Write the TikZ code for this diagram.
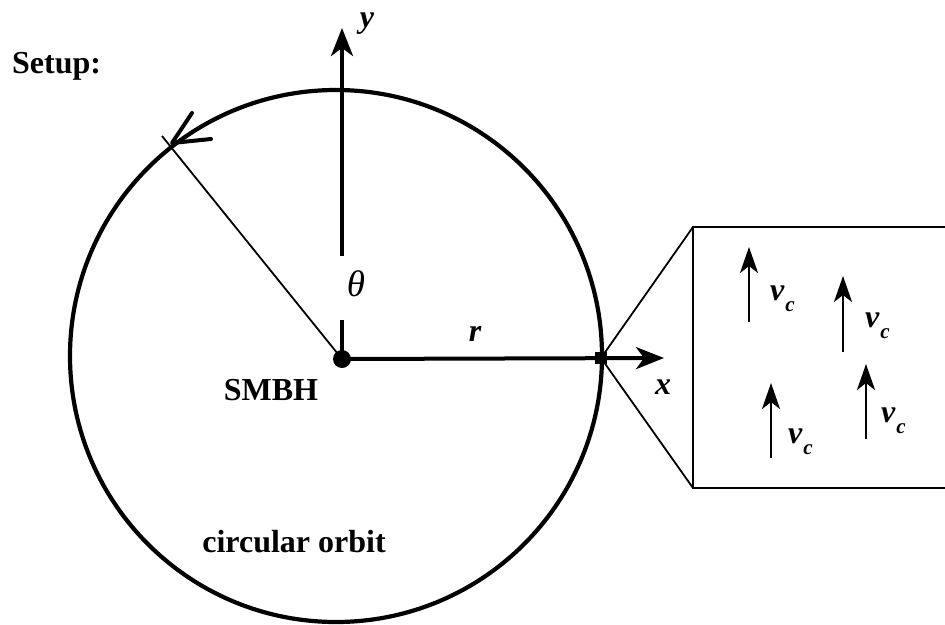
\documentclass[tikz,border=0pt]{standalone}
\usepackage{fontspec}
\setmainfont{Liberation Serif}
\usetikzlibrary{arrows.meta}
\begin{document}
\begin{tikzpicture}[x=1pt,y=-1pt,
  lbl/.style={font=\fontsize{32}{36}\selectfont\bfseries, inner sep=0pt},
  ilbl/.style={font=\fontsize{32}{36}\selectfont\bfseries\itshape, inner sep=0pt},
  axisline/.style={line width=4pt, -{Stealth[length=28pt,width=22pt,inset=8pt]}},
  varrow/.style={line width=2.5pt, -{Stealth[length=26pt,width=18pt,inset=7pt]}},
  fine/.style={line width=1.8pt},
  orbit/.style={line width=4.2pt}
]
\useasboundingbox (0,0) rectangle (945,624);
% centre and circle
\coordinate (cc) at (336,356);
\draw[orbit] (cc) circle[radius=266];
\node[circle, fill=black, minimum size=18pt, inner sep=0pt] (bh) at (342,359) {};
% y axis with gap for theta
\coordinate (ytop) at (342,28);
\coordinate (ygap1) at (342,256);
\coordinate (ygap2) at (342,320);
\draw[axisline] (ygap1) -- (ytop);
\draw[line width=4pt] (bh.center) -- (ygap2);
% x axis
\coordinate (xtip) at (664,358);
\draw[axisline] (bh.center) -- (xtip);
% radial thin line
\coordinate (rend) at (162,136);
\draw[fine] (bh.center) -- (rend);
% orbit direction arrowhead (open)
\coordinate (ahtip) at (172,143);
\coordinate (ahb1) at (192,113);
\coordinate (ahb2) at (211,139);
\draw[line width=4pt, line cap=round, line join=round] (ahb1) -- (ahtip) -- (ahb2);
% square on orbit
\node[rectangle, fill=black, minimum size=12pt, inner sep=0pt] (sq) at (601,358) {};
% zoom box
\coordinate (btl) at (693,227);
\coordinate (bbl) at (693,488);
\coordinate (btr) at (946,227);
\coordinate (bbr) at (946,488);
\draw[fine] (btr) -- (btl) -- (bbl) -- (bbr);
\draw[fine] (sq.center) -- (btl);
\draw[fine] (sq.center) -- (bbl);
% velocity arrows
\coordinate (a1s) at (749,322); \coordinate (a1e) at (749,247);
\coordinate (a2s) at (843,352); \coordinate (a2e) at (843,276);
\coordinate (a3s) at (771,458); \coordinate (a3e) at (771,383);
\coordinate (a4s) at (866,439); \coordinate (a4e) at (866,364);
\draw[varrow] (a1s) -- (a1e);
\draw[varrow] (a2s) -- (a2e);
\draw[varrow] (a3s) -- (a3e);
\draw[varrow] (a4s) -- (a4e);
\newcommand{\vcl}{v\kern1pt\raisebox{-11pt}{\fontsize{21}{21}\selectfont c}}
\node[ilbl, anchor=base west] (v1) at (770,300) {\vcl};
\node[ilbl, anchor=base west] (v2) at (865,327) {\vcl};
\node[ilbl, anchor=base west] (v3) at (788,443) {\vcl};
\node[ilbl, anchor=base west] (v4) at (881,422) {\vcl};
% labels
\node[lbl, anchor=base west] (setup) at (12,73) {Setup:};
\node[lbl, anchor=base] (smbh) at (271,400) {SMBH};
\node[lbl, anchor=base] (orb) at (294,552) {circular orbit};
\node[ilbl] (ylab) at (367,24) {y};
\node[ilbl] (xlab) at (663,387) {x};
\node[ilbl] (rlab) at (475,334) {r};
\node[inner sep=0pt, font=\fontsize{37}{40}\selectfont\itshape] (th) at (356,284) {θ};
\end{tikzpicture}
\end{document}
